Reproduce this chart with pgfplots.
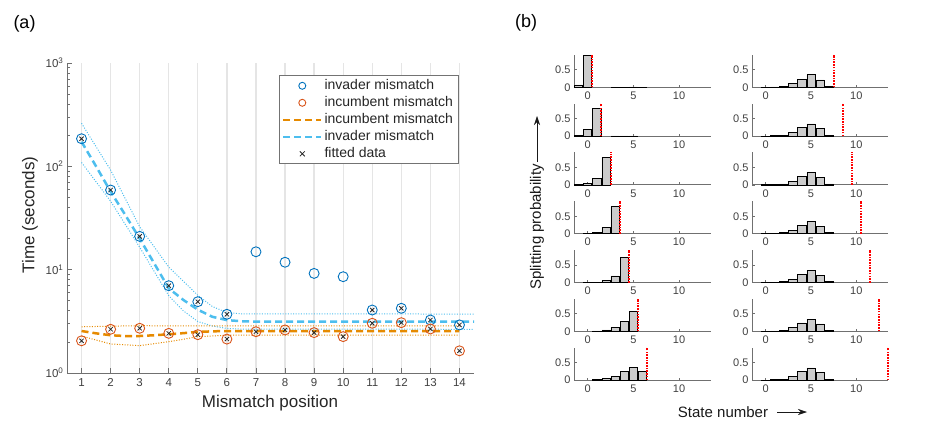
\documentclass[border=0pt]{standalone}
\usepackage{fontspec}
\setmainfont{Liberation Sans}
\usepackage{pgfplots}
\pgfplotsset{compat=1.18}
\usetikzlibrary{arrows.meta}

\definecolor{mlblue}{HTML}{0072BD}
\definecolor{mlorange}{HTML}{D95319}
\definecolor{fitblue}{HTML}{4DBEEE}
\definecolor{fitorange}{HTML}{E68A00}
\definecolor{axgray}{HTML}{707070}
\definecolor{txtgray}{HTML}{404040}
\definecolor{barfill}{HTML}{CCCCCC}

\pgfplotsset{
  /pgf/number format/assume math mode=true,
  wide legend/.style={
    legend image code/.code={\draw[mark repeat=2,mark phase=2,##1] plot coordinates {(0pt,0pt) (19pt,0pt) (38pt,0pt)};}
  },
  % small histogram panels of (b)
  hist/.style={
    anchor=south west, scale only axis, width=137pt, height=32.5pt,
    xmin=-1.5, xmax=13.5, ymin=0, ymax=0.93,
    xtick={0,5,10}, ytick={0,0.5},
    axis x line*=bottom, axis y line*=left,
    axis line style={-, draw=axgray, line width=1pt},
    tick align=inside, major tick length=2.5pt,
    tick style={draw=axgray, line width=0.8pt},
    tick label style={font=\fontsize{11}{12}\selectfont, text=txtgray},
    xticklabel style={yshift=-1pt},
    clip=false,
  },
  bars/.style={ybar, bar width=0.9, fill=barfill, draw=black, line width=0.7pt},
  cut/.style={draw=red, line width=2pt, dash pattern=on 1.6pt off 1.1pt},
}

\begin{document}
\begin{tikzpicture}
\useasboundingbox (0pt,0pt) rectangle (926pt,-440pt);

% ---------------- (a) ----------------
\node[font=\fontsize{18}{20}\selectfont] at (24.5pt,-24pt) {(a)};
\begin{axis}[
  at={(67pt,-373pt)}, anchor=south west,
  scale only axis, width=407pt, height=310pt,
  ymode=log, ymin=1, ymax=1000,
  xmin=0.5, xmax=14.5,
  xtick={1,2,...,14}, ytick={1,10,100,1000},
  minor ytick={2,3,4,5,6,7,8,9,20,30,40,50,60,70,80,90,200,300,400,500,600,700,800,900},
  yticklabels={10\textsuperscript{0},10\textsuperscript{1},10\textsuperscript{2},10\textsuperscript{3}},
  axis x line*=bottom, axis y line*=left,
  axis line style={-, draw=axgray, line width=1pt},
  tick align=inside, major tick length=5pt, minor tick length=3pt,
  tick style={draw=axgray, line width=0.8pt},
  tick label style={font=\fontsize{11.5}{13}\selectfont, text=txtgray},
  xticklabel style={yshift=-2pt},
  xmajorgrids, grid style={draw=black!10, line width=1.3pt},
  legend style={at={(0.52,0.96)}, anchor=north west,
    font=\fontsize{14}{16}\selectfont, text=black!85,
    draw=black!55, line width=0.8pt, inner xsep=3pt, inner ysep=2pt,
    nodes={inner ysep=0.5pt, text height=11pt, text depth=4pt},
    row sep=1pt},
  legend cell align=left,
  legend image post style={mark size=3.5pt},
]
% confidence bands
\addplot[fitblue, line width=1pt, dash pattern=on 1pt off 1.6pt, forget plot] coordinates {
  (1,261) (2,92) (3,26) (4,10.6) (5,5.65) (5.5,4.4) (6,3.85) (6.5,3.74) (14.5,3.72)};
\addplot[fitblue, line width=1pt, dash pattern=on 1pt off 1.6pt, forget plot] coordinates {
  (1,109) (2,46) (3,16.5) (4,5.6) (4.5,4.0) (5,3.15) (5.5,2.85) (6,2.7) (6.5,2.66) (14.5,2.65)};
\addplot[fitorange, line width=1pt, dash pattern=on 1pt off 1.6pt, forget plot] coordinates {
  (1,2.80) (2,2.84) (3,2.87) (4,2.86) (14,2.86)};
\addplot[fitorange, line width=1pt, dash pattern=on 1pt off 1.6pt, forget plot] coordinates {
  (1,2.28) (2,1.91) (3,1.84) (4,2.01) (4.5,2.12) (5,2.25) (6,2.32) (14,2.33)};
% measured times
\addplot[only marks, mark=o, mark size=5pt, mlblue, line width=0.9pt, wide legend] coordinates {
  (1,185) (2,59) (3,21) (4,7.0) (5,4.9) (6,3.7) (7,14.9) (8,11.8) (9,9.2) (10,8.55)
  (11,4.07) (12,4.23) (13,3.26) (14,2.92)};
\addlegendentry{invader mismatch}
\addplot[only marks, mark=o, mark size=5pt, mlorange, line width=0.9pt, wide legend] coordinates {
  (1,2.05) (2,2.65) (3,2.71) (4,2.42) (5,2.35) (6,2.13) (7,2.51) (8,2.61) (9,2.46) (10,2.25)
  (11,3.03) (12,3.07) (13,2.67) (14,1.64)};
\addlegendentry{incumbent mismatch}
% fits
\addplot[fitorange, line width=2.5pt, dash pattern=on 7pt off 4pt, wide legend] coordinates {
  (1,2.55) (1.5,2.42) (2,2.32) (2.5,2.28) (3,2.28) (3.5,2.32) (4,2.37) (4.5,2.43) (5,2.5)
  (5.5,2.53) (6,2.55) (14,2.55)};
\addlegendentry{incumbent mismatch}
\addplot[fitblue, line width=2.5pt, dash pattern=on 7pt off 4pt, wide legend] coordinates {
  (1,173) (1.5,100) (2,57) (2.5,34) (3,20) (3.5,11.5) (4,6.6) (4.5,5.1) (5,4.1)
  (5.5,3.5) (6,3.25) (6.5,3.17) (7,3.14) (14.5,3.14)};
\addlegendentry{invader mismatch}
% points used in the fit
\addplot[only marks, mark=x, mark size=3pt, black!85, line width=0.8pt, wide legend] coordinates {
  (1,185) (2,59) (3,21) (4,7.0) (5,4.9) (6,3.7) (11,4.07) (12,4.23) (13,3.26) (14,2.92)
  (1,2.05) (2,2.65) (3,2.71) (4,2.42) (5,2.35) (6,2.13) (7,2.51) (8,2.61) (9,2.46) (10,2.25)
  (11,3.03) (12,3.07) (13,2.67) (14,1.64)};
\addlegendentry{fitted data}
\end{axis}
\node[rotate=90, font=\fontsize{17}{19}\selectfont, text=black!85] at (30pt,-215pt) {Time (seconds)};
\node[font=\fontsize{17}{19}\selectfont, text=black!85] at (270pt,-403pt) {Mismatch position};

% ---------------- (b) ----------------
\node[font=\fontsize{18}{20}\selectfont] at (526pt,-23pt) {(b)};

% left column
\begin{axis}[hist, at={(574pt,-87.3pt)}]
\addplot[bars] coordinates {(-1,0.07) (0,0.91) (3,0.005) (4,0.005) (5,0.01) (6,0.005)};
\addplot[cut] coordinates {(0.5,0) (0.5,0.93)};
\end{axis}
\begin{axis}[hist, at={(574pt,-136.1pt)}]
\addplot[bars] coordinates {(-1,0.02) (0,0.18) (1,0.8) (3,0.005) (4,0.005) (5,0.005)};
\addplot[cut] coordinates {(1.5,0) (1.5,0.93)};
\end{axis}
\begin{axis}[hist, at={(574pt,-184.9pt)}]
\addplot[bars] coordinates {(-1,0.01) (0,0.04) (1,0.18) (2,0.79)};
\addplot[cut] coordinates {(2.5,0) (2.5,0.93)};
\end{axis}
\begin{axis}[hist, at={(574pt,-233.7pt)}]
\addplot[bars] coordinates {(0,0.005) (1,0.04) (2,0.18) (3,0.77)};
\addplot[cut] coordinates {(3.5,0) (3.5,0.93)};
\end{axis}
\begin{axis}[hist, at={(574pt,-282.5pt)}]
\addplot[bars] coordinates {(0,0.005) (1,0.01) (2,0.06) (3,0.19) (4,0.72)};
\addplot[cut] coordinates {(4.5,0) (4.5,0.93)};
\end{axis}
\begin{axis}[hist, at={(574pt,-331.3pt)}]
\addplot[bars] coordinates {(1,0.01) (2,0.04) (3,0.11) (4,0.28) (5,0.56)};
\addplot[cut] coordinates {(5.5,0) (5.5,0.93)};
\end{axis}
\begin{axis}[hist, at={(574pt,-380.1pt)}]
\addplot[bars] coordinates {(1,0.01) (2,0.04) (3,0.11) (4,0.24) (5,0.37) (6,0.24)};
\addplot[cut] coordinates {(6.5,0) (6.5,0.93)};
\end{axis}

% right column
\begin{axis}[hist, width=136pt, at={(752pt,-87.3pt)}]
\addplot[bars] coordinates {(0,0.003) (1,0.01) (2,0.03) (3,0.1) (4,0.23) (5,0.36) (6,0.21) (7,0.03)};
\addplot[cut] coordinates {(7.5,0) (7.5,0.93)};
\end{axis}
\begin{axis}[hist, width=136pt, at={(752pt,-136.1pt)}]
\addplot[bars] coordinates {(0,0.003) (1,0.01) (2,0.03) (3,0.1) (4,0.24) (5,0.35) (6,0.21) (7,0.03)};
\addplot[cut] coordinates {(8.5,0) (8.5,0.93)};
\end{axis}
\begin{axis}[hist, width=136pt, at={(752pt,-184.9pt)}]
\addplot[bars] coordinates {(0,0.003) (1,0.01) (2,0.03) (3,0.1) (4,0.24) (5,0.35) (6,0.21) (7,0.03)};
\addplot[cut] coordinates {(9.5,0) (9.5,0.93)};
\end{axis}
\begin{axis}[hist, width=136pt, at={(752pt,-233.7pt)}]
\addplot[bars] coordinates {(0,0.003) (1,0.01) (2,0.03) (3,0.1) (4,0.24) (5,0.35) (6,0.21) (7,0.03)};
\addplot[cut] coordinates {(10.5,0) (10.5,0.93)};
\end{axis}
\begin{axis}[hist, width=136pt, at={(752pt,-282.5pt)}]
\addplot[bars] coordinates {(0,0.003) (1,0.01) (2,0.03) (3,0.1) (4,0.24) (5,0.35) (6,0.21) (7,0.03)};
\addplot[cut] coordinates {(11.5,0) (11.5,0.93)};
\end{axis}
\begin{axis}[hist, width=136pt, at={(752pt,-331.3pt)}]
\addplot[bars] coordinates {(0,0.003) (1,0.01) (2,0.03) (3,0.1) (4,0.24) (5,0.35) (6,0.21) (7,0.03)};
\addplot[cut] coordinates {(12.5,0) (12.5,0.93)};
\end{axis}
\begin{axis}[hist, width=136pt, at={(752pt,-380.1pt)}]
\addplot[bars] coordinates {(0,0.003) (1,0.01) (2,0.03) (3,0.1) (4,0.24) (5,0.35) (6,0.21) (7,0.03)};
\addplot[cut] coordinates {(13.5,0) (13.5,0.93)};
\end{axis}

\node[rotate=90, font=\fontsize{15}{17}\selectfont, text=black!90] at (537pt,-227pt) {Splitting probability};
\draw[-{Stealth[length=9pt,width=6pt]}, line width=0.6pt, black!90] (537pt,-162pt) -- (537pt,-116pt);
\node[font=\fontsize{15}{17}\selectfont, text=black!90] at (723pt,-412pt) {State number};
\draw[-{Stealth[length=9pt,width=6pt]}, line width=0.6pt, black!90] (777pt,-412pt) -- (807pt,-412pt);
\end{tikzpicture}
\end{document}
